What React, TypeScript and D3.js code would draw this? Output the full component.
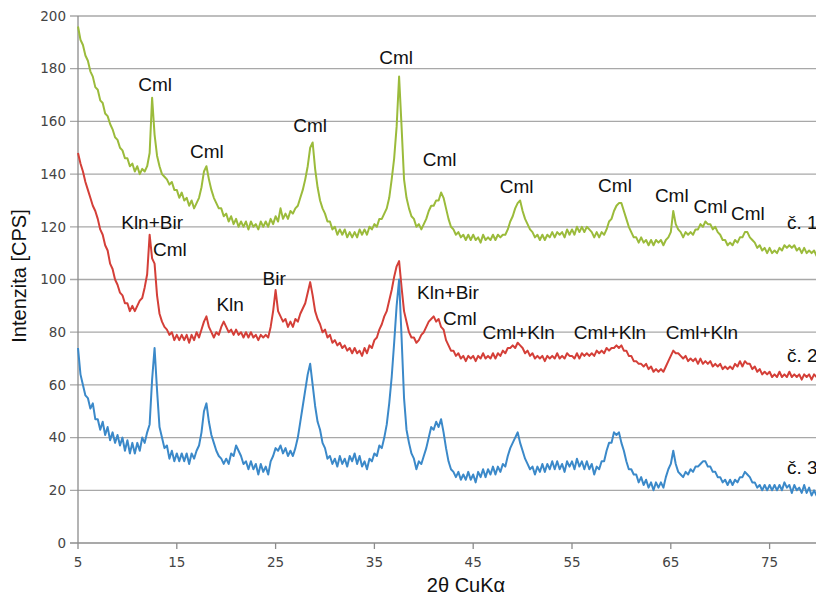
import React from 'react';
import * as d3 from 'd3';

// measurement grid: 2θ from 5° to 80° in 0.25° steps
const twoTheta = d3.range(5, 80.001, 0.25);

// sample č. 1 (green)
const sample1 = [
  196, 191, 189, 185, 183, 179, 177, 173, 172, 168, 167, 163, 162, 159, 157, 154,
  153, 150, 149, 146, 146, 143, 144, 141, 143, 140, 142, 141, 143, 148, 169, 155,
  147, 143, 140, 139, 138, 136, 137, 134, 134, 131, 133, 130, 131, 128, 130, 127,
  129, 131, 135, 141, 143, 138, 134, 131, 129, 127, 127, 124, 125, 122, 124, 121,
  123, 120, 122, 120, 122, 119, 122, 120, 121, 119, 122, 120, 122, 120, 123, 121,
  124, 122, 127, 123, 125, 123, 126, 125, 127, 128, 131, 134, 138, 143, 150, 152,
  142, 135, 130, 127, 125, 122, 122, 119, 120, 117, 119, 117, 119, 116, 118, 116,
  118, 116, 119, 117, 119, 117, 120, 119, 121, 120, 123, 123, 125, 127, 131, 138,
  146, 158, 177, 158, 138, 131, 127, 124, 123, 120, 121, 119, 121, 123, 126, 128,
  128, 130, 130, 133, 131, 127, 123, 120, 119, 117, 118, 116, 117, 115, 117, 115,
  117, 115, 116, 114, 117, 115, 116, 115, 117, 115, 117, 116, 117, 117, 119, 122,
  124, 127, 129, 130, 126, 123, 121, 119, 118, 116, 117, 115, 117, 115, 117, 116,
  118, 116, 118, 117, 118, 116, 119, 117, 119, 117, 120, 118, 120, 118, 120, 119,
  118, 116, 118, 116, 118, 117, 119, 122, 123, 126, 128, 129, 129, 126, 123, 120,
  118, 116, 116, 114, 116, 114, 115, 113, 115, 113, 115, 114, 115, 113, 115, 116,
  118, 126, 121, 119, 118, 116, 118, 117, 118, 117, 119, 119, 121, 120, 122, 121,
  121, 119, 120, 118, 117, 115, 115, 113, 114, 113, 115, 114, 116, 116, 118, 118,
  116, 115, 114, 112, 113, 111, 112, 110, 112, 110, 111, 110, 112, 111, 113, 112,
  113, 112, 113, 111, 112, 110, 112, 110, 111, 110, 111, 109, 110,
];

// sample č. 2 (red)
const sample2 = [
  148, 144, 141, 137, 134, 131, 128, 126, 123, 119, 117, 113, 111, 106, 104, 100,
  98, 95, 94, 91, 91, 88, 90, 88, 90, 92, 93, 97, 102, 117, 108, 106,
  94, 87, 84, 82, 81, 79, 80, 77, 79, 77, 79, 77, 79, 76, 79, 77,
  80, 78, 81, 84, 86, 82, 80, 78, 80, 79, 82, 84, 82, 80, 81, 79,
  81, 79, 80, 78, 80, 78, 80, 78, 79, 77, 79, 78, 79, 78, 82, 88,
  96, 88, 86, 84, 85, 82, 84, 82, 85, 84, 87, 89, 91, 95, 99, 94,
  88, 85, 83, 80, 81, 78, 79, 76, 77, 75, 76, 74, 75, 73, 74, 72,
  74, 72, 73, 71, 74, 72, 75, 74, 77, 78, 81, 83, 86, 88, 92, 96,
  101, 105, 107, 97, 88, 84, 80, 78, 78, 76, 77, 79, 80, 82, 84, 85,
  86, 84, 85, 82, 81, 77, 75, 73, 73, 71, 72, 70, 71, 69, 71, 70,
  71, 69, 71, 70, 72, 70, 71, 70, 72, 70, 72, 71, 73, 72, 74, 74,
  75, 74, 76, 75, 74, 72, 73, 71, 72, 70, 71, 70, 71, 69, 71, 70,
  71, 70, 72, 70, 71, 70, 72, 71, 71, 70, 72, 70, 72, 71, 72, 71,
  72, 71, 73, 72, 73, 72, 74, 73, 74, 74, 75, 74, 75, 73, 73, 71,
  71, 69, 69, 68, 68, 67, 68, 66, 67, 65, 66, 65, 66, 65, 67, 69,
  71, 73, 72, 72, 71, 70, 71, 69, 70, 69, 70, 68, 70, 68, 69, 68,
  69, 67, 68, 67, 68, 66, 67, 66, 67, 66, 68, 67, 69, 67, 69, 68,
  68, 66, 67, 65, 66, 64, 65, 64, 65, 63, 64, 63, 65, 63, 64, 63,
  65, 63, 64, 63, 64, 62, 64, 63, 64, 62, 64, 63, 64,
];

// sample č. 3 (blue)
const sample3 = [
  74, 64, 60, 56, 55, 51, 53, 47, 47, 43, 46, 41, 44, 39, 42, 38,
  41, 37, 40, 35, 39, 34, 38, 34, 38, 35, 40, 38, 42, 45, 62, 74,
  58, 44, 40, 36, 37, 32, 35, 31, 34, 31, 34, 31, 34, 30, 34, 32,
  35, 37, 42, 50, 53, 46, 41, 38, 35, 33, 32, 30, 32, 30, 34, 33,
  37, 35, 33, 30, 31, 28, 31, 28, 30, 26, 30, 27, 29, 26, 31, 33,
  36, 35, 37, 34, 36, 33, 35, 33, 36, 40, 46, 52, 58, 64, 68, 60,
  52, 46, 43, 38, 36, 32, 33, 30, 32, 29, 33, 30, 32, 29, 33, 31,
  34, 30, 33, 29, 31, 28, 32, 31, 34, 33, 37, 36, 40, 45, 53, 63,
  76, 90, 100, 78, 55, 43, 38, 34, 32, 28, 31, 30, 33, 36, 40, 44,
  43, 46, 44, 47, 42, 36, 31, 28, 27, 25, 27, 24, 26, 24, 27, 24,
  26, 23, 27, 25, 28, 25, 28, 26, 29, 26, 29, 27, 30, 29, 33, 36,
  38, 40, 42, 38, 35, 32, 30, 28, 29, 26, 29, 27, 30, 27, 30, 28,
  31, 28, 31, 28, 30, 27, 31, 29, 31, 28, 32, 29, 31, 28, 31, 28,
  30, 26, 29, 28, 31, 31, 35, 38, 38, 42, 41, 42, 38, 35, 31, 28,
  28, 26, 26, 23, 25, 22, 24, 21, 23, 20, 23, 21, 23, 21, 25, 28,
  30, 35, 30, 27, 26, 25, 27, 26, 28, 27, 29, 29, 30, 31, 31, 29,
  29, 27, 27, 25, 25, 23, 24, 22, 24, 22, 24, 23, 25, 25, 27, 26,
  25, 23, 23, 21, 22, 20, 22, 20, 22, 20, 22, 20, 22, 20, 23, 21,
  22, 19, 22, 20, 21, 19, 22, 19, 21, 18, 20, 18, 19,
];

const xTicks = [5, 15, 25, 35, 45, 55, 65, 75];
const yTicks = [0, 20, 40, 60, 80, 100, 120, 140, 160, 180, 200];

// peak labels: [text, 2θ (centre), intensity (baseline)]
const labels1: [string, number, number][] = [
  ['Cml', 12.8, 171.5], ['Cml', 18.05, 146], ['Cml', 28.5, 156], ['Cml', 37.2, 181.8],
  ['Cml', 41.6, 143], ['Cml', 49.4, 132.8], ['Cml', 59.35, 133.2], ['Cml', 65.1, 129.4],
  ['Cml', 69.0, 125.2], ['Cml', 72.8, 122.6],
];
const labels2: [string, number, number][] = [
  ['Kln+Bir', 12.5, 119.2], ['Cml', 14.3, 109], ['Kln', 20.4, 88], ['Bir', 24.85, 98],
  ['Kln+Bir', 42.45, 92.6], ['Cml', 43.65, 82.7], ['Cml+Kln', 49.6, 77.4],
  ['Cml+Kln', 58.85, 77.4], ['Cml+Kln', 68.15, 77.4],
];
// sample names: [text, 2θ (left), intensity (baseline)]
const sampleNames: [string, number, number][] = [
  ['č. 1', 76.75, 119.2], ['č. 2', 76.75, 68.7], ['č. 3', 76.75, 26.2],
];

const series = [
  { name: 'č. 1', values: sample1, color: '#9bbb3b' },
  { name: 'č. 2', values: sample2, color: '#d43f38' },
  { name: 'č. 3', values: sample3, color: '#3b89c9' },
];

const W = 816;
const H = 597;

export default function App() {
  const x = d3.scaleLinear().domain([5, 80]).range([78, 819]);
  const y = d3.scaleLinear().domain([0, 200]).range([543, 16]);

  const line = d3.line<number>()
    .x((_, i) => x(twoTheta[i]))
    .y(d => y(d));

  const labelFont = { fontFamily: 'Liberation Sans, Arial, sans-serif', fontSize: 19, fill: '#111' };

  return (
    <svg width={W} height={H} style={{ position: 'absolute', left: 0, top: 0, background: '#fff' }}>
      {yTicks.map(t => (
        <g key={t}>
          <line x1={70} x2={W} y1={y(t)} y2={y(t)} stroke={t === 0 ? '#8c8c8c' : '#a8a8a8'} strokeWidth={1.3} />
          <text x={66} y={y(t)} dy="0.35em" textAnchor="end"
            style={{ fontFamily: 'DejaVu Sans, Verdana, sans-serif', fontSize: 13.5, fill: '#444' }}>{t}</text>
        </g>
      ))}
      <line x1={x(5)} x2={x(5)} y1={y(200)} y2={y(0)} stroke="#8c8c8c" strokeWidth={1.3} />
      {xTicks.map(t => (
        <g key={t}>
          <line x1={x(t)} x2={x(t)} y1={y(0)} y2={y(0) + 6} stroke="#8c8c8c" strokeWidth={1.3} />
          <text x={x(t)} y={567} textAnchor="middle"
            style={{ fontFamily: 'DejaVu Sans, Verdana, sans-serif', fontSize: 13.5, fill: '#444' }}>{t}</text>
        </g>
      ))}

      {series.map(s => (
        <path key={s.name} d={line(s.values) ?? ''} fill="none" stroke={s.color} strokeWidth={2} strokeLinejoin="round" />
      ))}

      {[...labels1, ...labels2].map(([t, a, v], i) => (
        <text key={i} x={x(a)} y={y(v)} textAnchor="middle" style={labelFont}>{t}</text>
      ))}
      {sampleNames.map(([t, a, v]) => (
        <text key={t} x={x(a)} y={y(v)} style={labelFont}>{t}</text>
      ))}

      <text transform={`translate(26, 276) rotate(-90)`} textAnchor="middle"
        style={{ fontFamily: 'Liberation Sans, Arial, sans-serif', fontSize: 20, fill: '#111' }}>Intenzita [CPS]</text>
      <text x={466} y={592} textAnchor="middle"
        style={{ fontFamily: 'Liberation Sans, Arial, sans-serif', fontSize: 20, fill: '#111' }}>2θ CuKα</text>
    </svg>
  );
}
